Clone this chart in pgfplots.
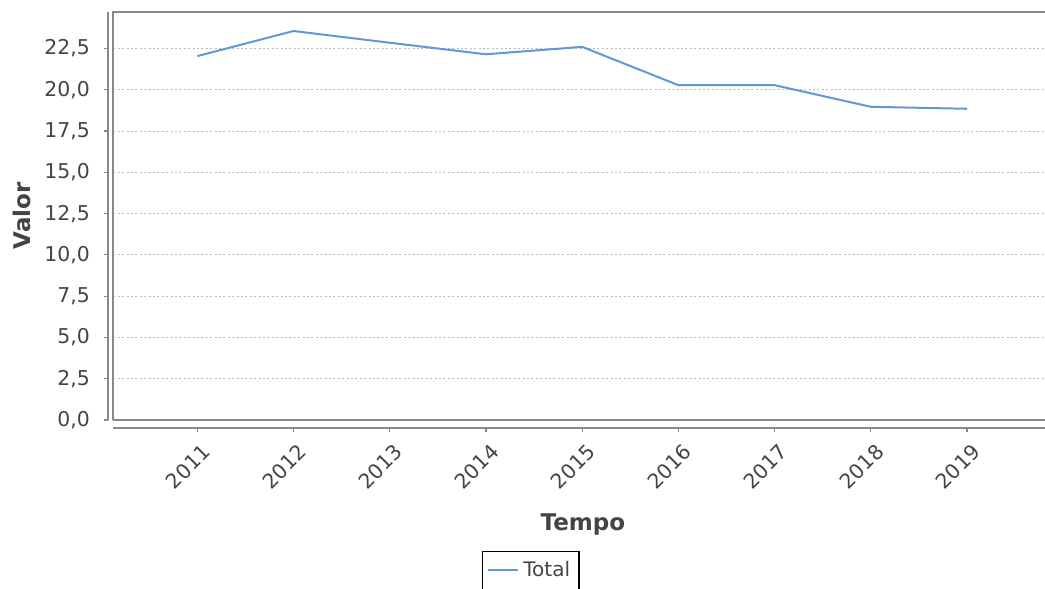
\documentclass[border=0pt]{standalone}
\usepackage{fontspec}
\setmainfont{DejaVu Sans}
\usepackage{pgfplots}
\pgfplotsset{compat=1.18}
\definecolor{linecol}{RGB}{100,149,217}
\definecolor{gridcol}{RGB}{185,185,185}
\definecolor{framecol}{RGB}{136,136,136}
\definecolor{textcol}{RGB}{68,68,68}

\begin{document}
\begin{tikzpicture}
\begin{axis}[
  name=ax,
  scale only axis,
  width=465.85pt, height=204.15pt,
  xmin=-0.873, xmax=8.81,
  ymin=0, ymax=24.73,
  clip=false,
  axis line style={draw=none},
  xtick={0,1,2,3,4,5,6,7,8},
  xticklabels={2011,2012,2013,2014,2015,2016,2017,2018,2019},
  ytick={0,2.5,5,7.5,10,12.5,15,17.5,20,22.5},
  tick align=outside,
  major tick length=2pt,
  xtick pos=bottom, ytick pos=left,
  tick style={framecol, line width=0.6pt},
  xtick style={yshift=-4pt},
  ytick style={xshift=-2.65pt},
  ymajorgrids,
  grid style={gridcol, line width=0.5pt, dash pattern=on 1pt off 1.2pt},
  /pgf/number format/assume math mode=true,
  ticklabel style={font=\fontsize{10.2}{12}\selectfont, text=textcol},
  yticklabel style={/pgf/number format/.cd, fixed, fixed zerofill, precision=1, use comma, /tikz/.cd, anchor=east, inner sep=0pt, xshift=-9.5pt},
  xticklabel style={inner sep=0pt, xshift=4.7pt, yshift=-12pt, rotate=45, anchor=east},
  xlabel={Tempo}, ylabel={Valor},
  every axis x label/.style={at={(rel axis cs:0.504,0)}, yshift=-52.5pt, anchor=center},
  every axis y label/.style={at={(rel axis cs:0,0.5)}, xshift=-45.65pt, rotate=90, anchor=center},
  label style={font=\bfseries\fontsize{11.5}{13}\selectfont, text=textcol},
  legend style={at={(0.448,0)}, anchor=north, yshift=-65.3pt, draw=black, line width=0.75pt,
    font=\fontsize{10}{12}\selectfont, text=textcol, inner xsep=2.5pt, inner ysep=3pt},
  legend image code/.code={\draw[#1] (0pt,0pt) -- (13pt,0pt); \path (0pt,0pt) -- (15pt,0pt);},
]
\addplot[linecol, line width=1pt] coordinates {
  (0,22.04) (1,23.56) (2,22.85) (3,22.15) (4,22.60)
  (5,20.28) (6,20.28) (7,18.97) (8,18.85)
};
\addlegendentry{Total}
\draw[framecol, line width=1pt] (rel axis cs:0,0) -- (rel axis cs:0,1) -- (rel axis cs:1,1);
\draw[framecol, line width=1pt] (rel axis cs:0,0) -- (rel axis cs:1,0);
\draw[framecol, line width=1pt] ([xshift=-2.65pt]rel axis cs:0,0) -- ([xshift=-2.65pt]rel axis cs:0,1);
\draw[framecol, line width=1pt] ([yshift=-4pt]rel axis cs:0,0) -- ([yshift=-4pt]rel axis cs:1,0);
\end{axis}
\pgfresetboundingbox
\path[use as bounding box] (ax.south west) ++(-56.65pt,-84pt) rectangle ([yshift=5.85pt]ax.north east);
\end{tikzpicture}
\end{document}
